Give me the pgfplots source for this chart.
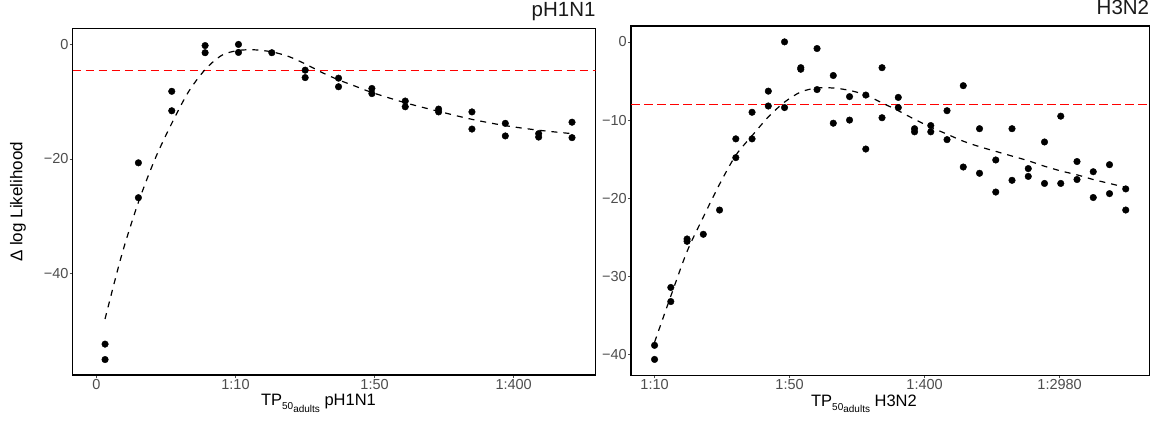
\documentclass[border=0pt]{standalone}
\usepackage{fontspec}
\setmainfont{Liberation Sans}
\usepackage{pgfplots}
\pgfplotsset{compat=1.18}
\definecolor{tickgray}{HTML}{4D4D4D}
\definecolor{titlegray}{HTML}{1A1A1A}
\pgfplotsset{
  panel/.style={
    scale only axis,
    anchor=south west,
    axis line style={black, line width=1.1pt},
    tick align=outside,
    tick pos=left,
    major tick length=3pt,
    minor tick num=0,
    tick style={tickgray, line width=0.6pt},
    ticklabel style={font=\fontsize{14.5}{14.5}\selectfont, text=tickgray},
    yticklabel style={inner sep=1pt},
    xticklabel style={inner sep=1pt},
    title style={at={(1,1)}, anchor=base east, font=\fontsize{20.5}{20.5}\selectfont, text=titlegray, inner sep=0pt, yshift=5.8pt},
    xlabel style={font=\fontsize{16.5}{16.5}\selectfont, anchor=base, inner sep=0pt},
    ylabel style={font=\fontsize{17}{17}\selectfont, anchor=center, inner sep=0pt},
    scaled ticks=false,
  },
  pts/.style={only marks, mark=*, mark size=3.3pt, mark options={draw=none, fill=black}},
  fit/.style={no marks, black, line width=1.2pt, dash pattern=on 6pt off 6pt, smooth},
  refl/.style={no marks, red, line width=1.2pt, dash pattern=on 8.5pt off 4.5pt},
}
\newcommand{\tplab}[1]{TP\raisebox{-4pt}{\fontsize{10}{10}\selectfont 50\raisebox{-2.5pt}{adults}}\ #1}
\begin{document}
\begin{tikzpicture}
\useasboundingbox (0,0) rectangle (1159pt,421pt);
% ---------------- pH1N1 ----------------
\begin{axis}[panel,
  at={(72.7pt,46pt)},
  width=523pt, height=346.3pt,
  xmin=-0.97, xmax=14.71,
  ymin=-57.8, ymax=2.75,
  xtick={-0.26,3.91,8.08,12.25},
  xticklabels={0,1:10,1:50,1:400},
  ytick={-40,-20,0},
  yticklabels={−40,−20,0},
  title={pH1N1},
  xlabel={\tplab{pH1N1}},
  xlabel style={at={(axis description cs:0.47,0)}, yshift=-30.7pt},
  ylabel={Δ log Likelihood},
  ylabel style={at={(axis description cs:-0.1046,0.5)}},
]
\addplot[refl] coordinates {(-0.97,-4.5) (14.71,-4.5)};
\addplot[fit] coordinates {
(0,-48) (0.5,-36.8) (1,-27.6) (1.5,-20) (2,-13.8) (2.5,-8.3) (3,-4.4) (3.5,-1.9)
(4,-1.05) (4.5,-0.95) (5,-1.3) (5.5,-2.1) (6,-3.4) (6.5,-4.9) (7,-6.2) (7.5,-7.3)
(8,-8.4) (9,-10.2) (10,-11.7) (11,-13.1) (12,-14.2) (13,-15.0) (14,-15.6)};
\addplot[pts] coordinates {
(0,-52.4) (0,-55.1) (1,-20.7) (1,-26.8) (2,-8.2) (2,-11.6) (3,-0.2) (3,-1.45)
(4,0) (4,-1.4) (5,-1.45) (6,-4.5) (6,-5.8) (7,-5.9) (7,-7.4) (8,-7.7) (8,-8.6)
(9,-9.9) (9,-10.9) (10,-11.3) (10,-11.8) (11,-11.8) (11,-14.8) (12,-13.8) (12,-16.0)
(13,-15.6) (13,-16.2) (14,-13.6) (14,-16.3)};
\end{axis}
% ---------------- H3N2 ----------------
\begin{axis}[panel,
  at={(631pt,45.7pt)},
  width=518.3pt, height=349.3pt,
  xmin=-1.45, xmax=30.45,
  ymin=-42.63, ymax=2.03,
  xtick={0,8.31,16.62,24.93},
  xticklabels={1:10,1:50,1:400,1:2980},
  ytick={-40,-30,-20,-10,0},
  yticklabels={−40,−30,−20,−10,0},
  title={H3N2},
  xlabel={\tplab{H3N2}},
  xlabel style={at={(axis description cs:0.4495,0)}, yshift=-30.7pt},
]
\addplot[refl] coordinates {(-1.45,-8) (30.45,-8)};
\addplot[fit] coordinates {
(0,-38.4) (1,-32.5) (2,-26.8) (3,-22.4) (4,-18.2) (5,-14.5) (6,-12.0) (7,-9.6)
(8,-7.7) (9,-6.4) (10,-5.9) (11,-5.9) (12,-6.2) (13,-6.8) (14,-7.8) (15,-8.8)
(16,-9.9) (17,-10.9) (18,-11.8) (19,-12.7) (20,-13.4) (21,-14.0) (22,-14.6)
(23,-15.2) (24,-15.9) (25,-16.5) (26,-17.0) (27,-17.6) (28,-18.1) (29,-18.6)};
\addplot[pts] coordinates {
(0,-38.8) (0,-40.6) (1,-31.4) (1,-33.2) (2,-25.2) (2,-25.5) (3,-24.6) (4,-21.5)
(5,-12.4) (5,-14.8) (6,-9.0) (6,-12.4) (7,-6.3) (7,-8.2) (8,0) (8,-8.4)
(9,-3.3) (9,-3.5) (10,-0.85) (10,-6.1) (11,-4.3) (11,-10.4) (12,-7.0) (12,-10.0)
(13,-6.8) (13,-13.7) (14,-3.3) (14,-9.7) (15,-7.1) (15,-8.4) (16,-11.1) (16,-11.5)
(17,-10.7) (17,-11.5) (18,-8.8) (18,-12.5) (19,-5.6) (19,-16.0) (20,-11.1) (20,-16.8)
(21,-15.1) (21,-19.2) (22,-11.1) (22,-17.7) (23,-16.2) (23,-17.2) (24,-12.8) (24,-18.1)
(25,-9.5) (25,-18.1) (26,-15.3) (26,-17.6) (27,-16.6) (27,-19.9) (28,-15.7) (28,-19.4)
(29,-18.8) (29,-21.5)};
\end{axis}
\end{tikzpicture}
\end{document}
